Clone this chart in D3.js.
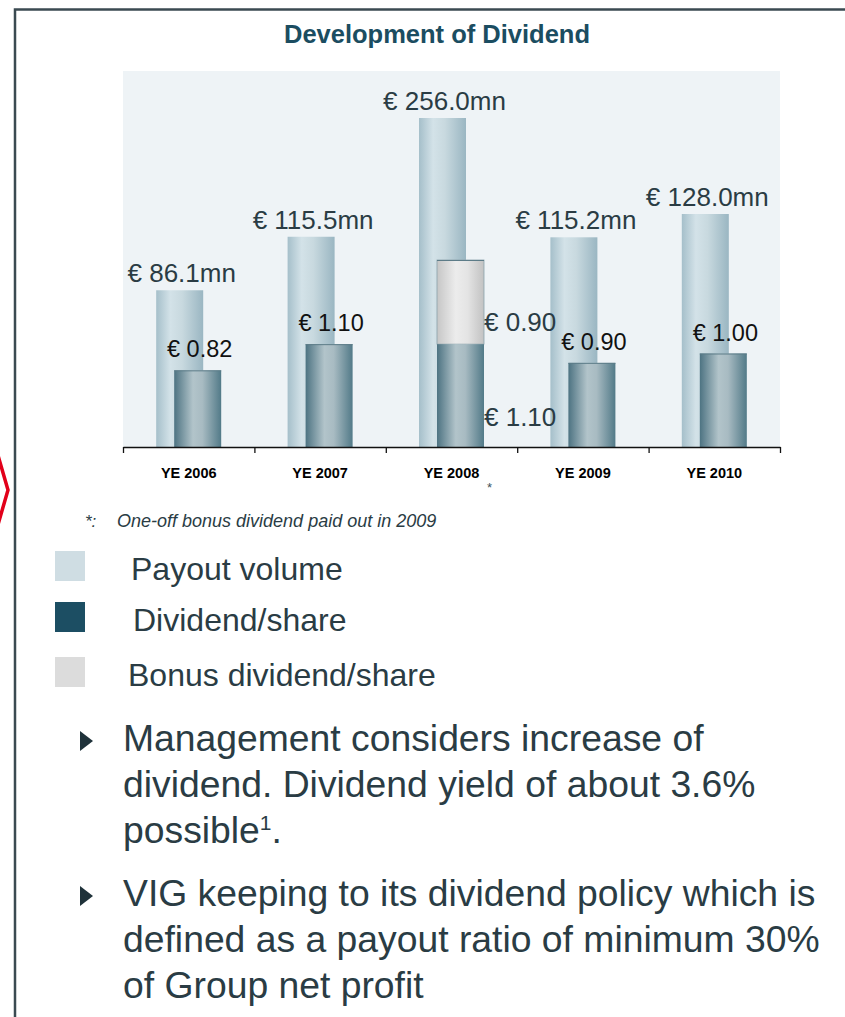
<!DOCTYPE html>
<html>
<head>
<meta charset="utf-8">
<script src="https://cdn.jsdelivr.net/npm/d3@7"></script>
<style>
  html, body { margin: 0; padding: 0; background: #ffffff; }
  svg { display: block; font-family: "Liberation Sans", Arial, sans-serif; }
</style>
</head>
<body>
<div id="chart"></div>
<script>
// ---- data ----
const categories = ["YE 2006", "YE 2007", "YE 2008", "YE 2009", "YE 2010"];
const payoutVolume = [86.1, 115.5, 256.0, 115.2, 128.0];     // EUR mn
const dividendPerShare = [0.82, 1.10, 1.10, 0.90, 1.00];     // EUR
const bonusDividend = [0, 0, 0.90, 0, 0];                    // EUR, one-off
const legendItems = ["Payout volume", "Dividend/share", "Bonus dividend/share"];
const footnote = "One-off bonus dividend paid out in 2009";
const bullets = [
  ["Management considers increase of", "dividend. Dividend yield of about 3.6%", "possible"],
  ["VIG keeping to its dividend policy which is", "defined as a payout ratio of minimum 30%", "of Group net profit"]
];

const W = 845, H = 1017;
const plot = { left: 123, right: 780, top: 71, bottom: 447 };
const textDark = "#2a3c44";

const svg = d3.select("#chart").append("svg")
    .attr("width", W)
    .attr("height", H);

// gradients for the cylinder look
const defs = svg.append("defs");
const gradient = function (id, stops) {
    const g = defs.append("linearGradient").attr("id", id)
        .attr("x1", "0%").attr("x2", "100%").attr("y1", "0%").attr("y2", "0%");
    stops.forEach(s => g.append("stop").attr("offset", s[0]).attr("stop-color", s[1]));
};
gradient("gPayout", [["0%", "#a5bfca"], ["30%", "#d3e2e8"], ["55%", "#c8d9df"], ["100%", "#9ab6c2"]]);
gradient("gDividend", [["0%", "#4d7382"], ["40%", "#b2c4ca"], ["60%", "#a8bbc2"], ["100%", "#527a88"]]);
gradient("gBonus", [["0%", "#c6c6c6"], ["40%", "#ececec"], ["65%", "#e4e4e4"], ["100%", "#c2c2c2"]]);

// frame + red marker on the left
svg.append("path")
    .attr("d", "M15,1017 L15,9.5 L845,9.5")
    .attr("fill", "none")
    .attr("stroke", "#3b4a51")
    .attr("stroke-width", 2.5);
svg.append("polyline")
    .attr("points", "-3,452 8,490 -3,528")
    .attr("fill", "none")
    .attr("stroke", "#e2001a")
    .attr("stroke-width", 3.5);

// title
svg.append("text")
    .attr("x", 437).attr("y", 43)
    .attr("text-anchor", "middle")
    .attr("font-size", 25.5)
    .attr("font-weight", "bold")
    .attr("fill", "#1b4d61")
    .text("Development of Dividend");

// plot background
svg.append("rect")
    .attr("x", plot.left).attr("y", plot.top)
    .attr("width", plot.right - plot.left)
    .attr("height", plot.bottom - plot.top)
    .attr("fill", "#eef3f6");

// scales
const x = d3.scaleBand().domain(categories).range([plot.left, plot.right]);
// payout axis is compressed above 128 so the 2008 bar fits in the panel
const yPayout = d3.scaleLinear().domain([0, 128, 256]).range([plot.bottom, 214, 118]);
const yDiv = d3.scaleLinear().domain([0, 2]).range([plot.bottom, 260]);

const barW = 47;
const cx = d => x(d) + x.bandwidth() / 2;

const data = categories.map((c, i) => ({
    cat: c,
    payout: payoutVolume[i],
    div: dividendPerShare[i],
    bonus: bonusDividend[i]
}));

const bars = svg.append("g").attr("class", "bars");

// payout volume bars (behind)
bars.selectAll("rect.payout")
    .data(data)
    .enter().append("rect")
        .attr("class", "payout")
        .attr("x", d => cx(d.cat) - 9 - barW / 2)
        .attr("y", d => yPayout(d.payout))
        .attr("width", barW)
        .attr("height", d => plot.bottom - yPayout(d.payout))
        .attr("fill", "url(#gPayout)");

// bonus dividend (stacked on top of dividend)
bars.selectAll("rect.bonus")
    .data(data.filter(d => d.bonus > 0))
    .enter().append("rect")
        .attr("class", "bonus")
        .attr("x", d => cx(d.cat) + 9 - barW / 2)
        .attr("y", d => yDiv(d.div + d.bonus))
        .attr("width", barW)
        .attr("height", d => yDiv(d.div) - yDiv(d.div + d.bonus))
        .attr("fill", "url(#gBonus)")
        .attr("stroke", "#8aa2ac")
        .attr("stroke-width", 0.8);

// dividend per share bars
bars.selectAll("rect.div")
    .data(data)
    .enter().append("rect")
        .attr("class", "div")
        .attr("x", d => cx(d.cat) + 9 - barW / 2)
        .attr("y", d => yDiv(d.div))
        .attr("width", barW)
        .attr("height", d => plot.bottom - yDiv(d.div))
        .attr("fill", "url(#gDividend)");

// thin top edges
bars.selectAll("line.cap")
    .data(data)
    .enter().append("line")
        .attr("class", "cap")
        .attr("x1", d => cx(d.cat) + 9 - barW / 2)
        .attr("x2", d => cx(d.cat) + 9 + barW / 2)
        .attr("y1", d => yDiv(d.div + d.bonus) + 0.5)
        .attr("y2", d => yDiv(d.div + d.bonus) + 0.5)
        .attr("stroke", "#5d7c88")
        .attr("stroke-width", 1);

// axis with ticks on the band edges
const xEdge = d3.scaleLinear().domain([0, categories.length]).range([plot.left, plot.right]);
svg.append("g")
    .attr("transform", `translate(0,${plot.bottom})`)
    .call(d3.axisBottom(xEdge).tickValues(d3.range(categories.length + 1)).tickSize(6).tickSizeOuter(0).tickFormat(""))
    .call(g => g.selectAll("path, line").attr("stroke", "#111").attr("stroke-width", 1.3));

svg.append("g")
    .attr("transform", `translate(0,${plot.bottom})`)
    .call(d3.axisBottom(x).tickSize(0).tickPadding(21))
    .call(g => g.select(".domain").remove())
    .call(g => g.selectAll("text")
        .attr("font-family", "'Liberation Sans', Arial, sans-serif")
        .attr("font-size", 14.5)
        .attr("font-weight", "bold")
        .attr("fill", "#000"));

// asterisk under YE 2008
svg.append("text")
    .attr("x", cx("YE 2008") + 38).attr("y", 492)
    .attr("text-anchor", "middle")
    .attr("font-size", 13)
    .attr("fill", "#3b525c")
    .text("*");

// value labels
const fmtMn = v => "€ " + d3.format(".1f")(v) + "mn";
const fmtEur = v => "€ " + d3.format(".2f")(v);

svg.append("g").selectAll("text")
    .data(data)
    .enter().append("text")
        .attr("x", d => cx(d.cat) - 7)
        .attr("y", d => yPayout(d.payout) - 8)
        .attr("text-anchor", "middle")
        .attr("font-size", 26)
        .attr("fill", textDark)
        .text(d => fmtMn(d.payout));

// dividend labels above the bar (all but the bonus year)
svg.append("g").selectAll("text")
    .data(data.filter(d => d.bonus === 0))
    .enter().append("text")
        .attr("x", d => cx(d.cat) + 11)
        .attr("y", d => yDiv(d.div) - 13)
        .attr("text-anchor", "middle")
        .attr("font-size", 23.5)
        .attr("fill", "#111")
        .text(d => fmtEur(d.div));

// bonus year: labels to the right of the stacked bar
data.filter(d => d.bonus > 0).forEach(d => {
    const xr = cx(d.cat) + 9 + barW / 2;
    svg.append("text")
        .attr("x", xr).attr("y", yDiv(d.div + d.bonus / 2) + 29)
        .attr("font-size", 26)
        .attr("fill", textDark)
        .text(fmtEur(d.bonus));
    svg.append("text")
        .attr("x", xr).attr("y", yDiv(d.div / 2) + 30)
        .attr("font-size", 26)
        .attr("fill", textDark)
        .text(fmtEur(d.div));
});

// footnote
svg.append("text")
    .attr("x", 85).attr("y", 527)
    .attr("font-size", 17)
    .attr("font-style", "italic")
    .attr("fill", textDark)
    .text("*:");
svg.append("text")
    .attr("x", 117).attr("y", 527)
    .attr("font-size", 18)
    .attr("font-style", "italic")
    .attr("fill", textDark)
    .text(footnote);

// legend
const legendColors = ["#cfdde3", "#1c4e63", "#dcdcdc"];
const legendRowY = [551, 602, 657];
const legendTextX = [131, 133, 128];
const legend = svg.append("g").selectAll("g")
    .data(legendItems)
    .enter().append("g");
legend.append("rect")
    .attr("x", 55)
    .attr("y", (d, i) => legendRowY[i])
    .attr("width", 30).attr("height", 30)
    .attr("fill", (d, i) => legendColors[i]);
legend.append("text")
    .attr("x", (d, i) => legendTextX[i])
    .attr("y", (d, i) => legendRowY[i] + 29)
    .attr("font-size", 32)
    .attr("fill", textDark)
    .text(d => d);

// bullet points
const bulletTop = [751, 906];
const lineGap = 46;
bullets.forEach((lines, b) => {
    const y0 = bulletTop[b];
    svg.append("path")
        .attr("d", `M80,${y0 - 20} L93,${y0 - 10} L80,${y0}Z`)
        .attr("fill", "#1f323a");
    const t = svg.append("text")
        .attr("font-size", 37.3)
        .attr("fill", textDark);
    lines.forEach((ln, i) => {
        t.append("tspan")
            .attr("x", 123)
            .attr("y", y0 + i * lineGap)
            .text(ln);
    });
    if (b === 0) {
        t.append("tspan").attr("font-size", 21).attr("dy", -13).text("1");
        t.append("tspan").attr("dy", 13).text(".");
    }
});
</script>
</body>
</html>
